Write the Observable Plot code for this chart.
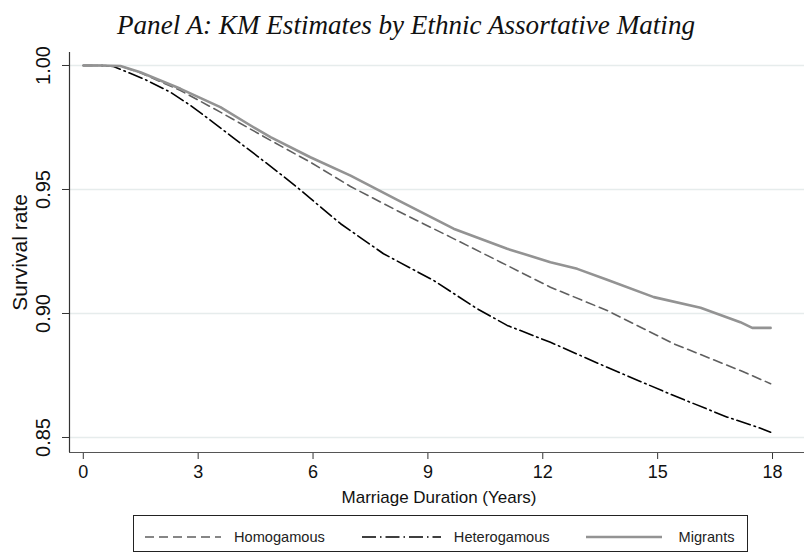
<!DOCTYPE html>
<html>
<head>
<meta charset="utf-8">
<script src="https://cdn.jsdelivr.net/npm/d3@7"></script>
<script src="https://cdn.jsdelivr.net/npm/@observablehq/plot@0.6"></script>
<style>
  html, body { margin: 0; padding: 0; background: #fff; }
  #wrap { position: relative; width: 804px; height: 553px; overflow: hidden; background: #fff; }
  #title { height: 46px; line-height: 46px; padding-left: 8px; padding-top: 2px; box-sizing: border-box;
           text-align: center; font-family: 'Liberation Serif', serif; font-style: italic; color: #111; white-space: nowrap; }
  #chart svg { display: block; }
  #legend { position: absolute; left: 133px; top: 515px; width: 615px; height: 37px; box-sizing: border-box;
            border: 1px solid #222; background: #fff; display: flex; align-items: flex-start;
            font-family: 'Liberation Sans', Arial, sans-serif; font-size: 14.6px; color: #222; }
  .item { display: flex; align-items: center; height: 30px; }
  .item svg { display: block; }
</style>
</head>
<body>
<div id="wrap">
  <div id="title"></div>
  <div id="chart"></div>
  <div id="legend"></div>
</div>
<script>
// ---- data ----
const titleText = "Panel A: KM Estimates by Ethnic Assortative Mating";
const xLabel = "Marriage Duration (Years)";
const yLabel = "Survival rate";
const seriesNames = ["Homogamous", "Heterogamous", "Migrants"];
const xTicks = [0, 3, 6, 9, 12, 15, 18];
const yTicks = [0.85, 0.90, 0.95, 1.00];

const homoT = [0, 0.45, 0.97, 1.49, 2.54, 3.58, 4.89, 5.93, 6.98, 8.28, 9.59, 10.90, 12.20, 13.68, 15.42, 17.16, 17.95];
const homoS = [1.0, 1.0, 0.9998, 0.9971, 0.9899, 0.9812, 0.9698, 0.9610, 0.9512, 0.9408, 0.9308, 0.9207, 0.9106, 0.9012, 0.8878, 0.8770, 0.8717];

const heteroT = [0, 0.45, 0.79, 1.58, 2.28, 2.80, 3.40, 3.92, 4.55, 5.07, 5.59, 5.93, 6.72, 7.84, 9.15, 10.29, 11.07, 12.20, 13.68, 15.42, 16.82, 17.60, 17.95];
const heteroS = [1.0, 1.0, 0.9996, 0.9946, 0.9892, 0.9839, 0.9770, 0.9708, 0.9634, 0.9572, 0.9508, 0.9464, 0.9362, 0.9241, 0.9133, 0.9019, 0.8952, 0.8884, 0.8783, 0.8669, 0.8582, 0.8542, 0.8521];

const migrT = [0, 0.45, 0.97, 1.49, 2.54, 3.58, 4.37, 4.89, 5.93, 6.98, 8.20, 9.67, 11.07, 12.20, 12.90, 13.68, 14.90, 16.12, 17.16, 17.47, 17.95];
const migrS = [1.0, 1.0, 0.9998, 0.9973, 0.9906, 0.9832, 0.9758, 0.9711, 0.9630, 0.9556, 0.9458, 0.9342, 0.9261, 0.9207, 0.9180, 0.9136, 0.9066, 0.9023, 0.8965, 0.8942, 0.8942];

// ---- styles ----
const seriesStyle = {
  Homogamous:   {stroke: "#5f5f5f", strokeWidth: 1.6, dash: "9,5"},
  Heterogamous: {stroke: "#000000", strokeWidth: 1.6, dash: "14,4,1.5,4"},
  Migrants:     {stroke: "#939393", strokeWidth: 2.6, dash: null}
};

const toRows = (T, S) => T.map((t, i) => ({t, s: S[i]}));
const seriesData = {
  Homogamous: toRows(homoT, homoS),
  Heterogamous: toRows(heteroT, heteroS),
  Migrants: toRows(migrT, migrS)
};

// ---- title (fit to measured width) ----
const titleEl = document.getElementById("title");
titleEl.textContent = titleText;
const ctx = document.createElement("canvas").getContext("2d");
ctx.font = "italic 100px 'Liberation Serif'";
const tw = ctx.measureText(titleText).width;
titleEl.style.fontSize = (100 * 579 / tw).toFixed(2) + "px";

// ---- chart ----
const xDomain = [-0.36, 18.835];
const yDomain = [0.84395, 1.00524];
const fmt = d3.format(".2f");

const lineMarks = seriesNames.map(name => Plot.line(seriesData[name], {
  x: "t", y: "s",
  stroke: seriesStyle[name].stroke,
  strokeWidth: seriesStyle[name].strokeWidth,
  strokeDasharray: seriesStyle[name].dash || undefined,
  strokeLinejoin: "round"
}));

const chart = Plot.plot({
  width: 804,
  height: 470,
  marginTop: 6,
  marginBottom: 64,
  marginLeft: 69,
  marginRight: 0,
  x: {domain: xDomain, axis: null},
  y: {domain: yDomain, axis: null},
  style: {fontFamily: "'Liberation Sans', Arial, sans-serif", background: "#fff", color: "#111", overflow: "visible"},
  marks: [
    Plot.gridY(yTicks, {stroke: "#e6ecec", strokeOpacity: 1, strokeWidth: 1.5}),
    Plot.axisY(yTicks, {tickSize: 7, tickFormat: () => "", label: null, stroke: "#333"}),
    Plot.text(yTicks, {y: d => d, text: d => fmt(d), frameAnchor: "left", dx: -26, rotate: -90,
                        textAnchor: "middle", lineAnchor: "middle", fontSize: 20, fill: "#111"}),
    Plot.text([yLabel], {frameAnchor: "left", dx: -49, rotate: -90, textAnchor: "middle",
                          lineAnchor: "middle", fontSize: 21, fill: "#111"}),
    Plot.axisX(xTicks, {tickSize: 7, tickPadding: 6, fontSize: 18, tickFormat: d => String(d), label: null, stroke: "#333", fill: "#111"}),
    Plot.text([xLabel], {frameAnchor: "bottom", dy: 38, dx: 2, lineAnchor: "top", fontSize: 17, fill: "#111"}),
    Plot.ruleX([xDomain[0]], {stroke: "#333", strokeWidth: 1.2}),
    Plot.ruleY([yDomain[0]], {stroke: "#555", strokeWidth: 1.2}),
    ...lineMarks
  ]
});
document.getElementById("chart").appendChild(chart);

// ---- legend ----
const legend = document.getElementById("legend");
const legendGaps = [
  {pre: 11, sample: 76, gap: 13},
  {pre: 37, sample: 79, gap: 13},
  {pre: 36, sample: 76, gap: 17}
];
seriesNames.forEach((name, i) => {
  const st = seriesStyle[name];
  const g = legendGaps[i];
  const item = document.createElement("div");
  item.className = "item";
  item.style.marginLeft = g.pre + "px";
  item.style.marginTop = "6px";
  const svgNS = "http://www.w3.org/2000/svg";
  const svg = document.createElementNS(svgNS, "svg");
  svg.setAttribute("width", g.sample);
  svg.setAttribute("height", 10);
  const ln = document.createElementNS(svgNS, "line");
  ln.setAttribute("x1", 0); ln.setAttribute("x2", g.sample);
  ln.setAttribute("y1", 5); ln.setAttribute("y2", 5);
  ln.setAttribute("stroke", st.stroke);
  ln.setAttribute("stroke-width", st.strokeWidth);
  if (st.dash) ln.setAttribute("stroke-dasharray", st.dash);
  svg.appendChild(ln);
  const label = document.createElement("span");
  label.textContent = name;
  label.style.marginLeft = g.gap + "px";
  item.appendChild(svg);
  item.appendChild(label);
  legend.appendChild(item);
});
</script>
</body>
</html>
